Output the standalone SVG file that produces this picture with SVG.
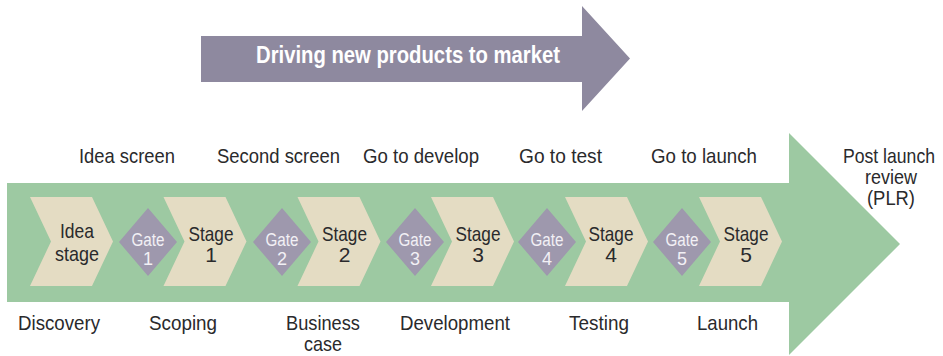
<svg xmlns="http://www.w3.org/2000/svg" width="943" height="356" viewBox="0 0 943 356">
<defs>
<style>
.lbl{font-family:"Liberation Sans",Arial,sans-serif;font-size:21px;fill:#2a2a2c;text-anchor:middle}
.gate{font-family:"Liberation Sans",Arial,sans-serif;font-size:18px;fill:#f2f0f5;text-anchor:middle}
.title{font-family:"Liberation Sans",Arial,sans-serif;font-size:23px;font-weight:bold;fill:#ffffff;text-anchor:middle}
.chev{fill:#e4dcc3}
.dia{fill:#9e98ad}
</style>
<polygon id="chevShape" class="chev" points="0,197 62,197 83,241.5 62,286 0,286 21,241.5"/>
<polygon id="diaShape" class="dia" points="0,208 29,242 0,276 -29,242"/>
</defs>
<rect width="943" height="356" fill="#ffffff"/>
<g id="title-arrow">
<polygon points="201,36 582,36 582,6 630,58.5 582,111 582,82 201,82" fill="#8e899f"/>
<text class="title" x="408" y="63" textLength="304" lengthAdjust="spacingAndGlyphs">Driving new products to market</text>
</g>
<g id="process-arrow">
<polygon points="7,183 789,183 789,133 900,244 789,355 789,302 7,302" fill="#9dc9a2"/>
</g>
<g id="connectors"></g>
<g id="idea-stage">
<use href="#chevShape" x="30"/>
<text class="lbl" x="77" y="238" textLength="34" lengthAdjust="spacingAndGlyphs">Idea</text>
<text class="lbl" x="77" y="261" textLength="44" lengthAdjust="spacingAndGlyphs">stage</text>
</g>
<g id="gate1">
<use href="#diaShape" x="148"/>
<text class="gate" x="148" y="246" textLength="33" lengthAdjust="spacingAndGlyphs">Gate</text>
<text class="gate" x="148" y="265">1</text>
</g>
<g id="stage1">
<use href="#chevShape" x="163.5"/>
<text class="lbl" x="211" y="241" textLength="45" lengthAdjust="spacingAndGlyphs">Stage</text>
<text class="lbl" x="211" y="262">1</text>
</g>
<g id="gate2">
<use href="#diaShape" x="282"/>
<text class="gate" x="282" y="246" textLength="33" lengthAdjust="spacingAndGlyphs">Gate</text>
<text class="gate" x="282" y="265">2</text>
</g>
<g id="stage2">
<use href="#chevShape" x="297.5"/>
<text class="lbl" x="344.5" y="241" textLength="45" lengthAdjust="spacingAndGlyphs">Stage</text>
<text class="lbl" x="344.5" y="262">2</text>
</g>
<g id="gate3">
<use href="#diaShape" x="415"/>
<text class="gate" x="415" y="246" textLength="33" lengthAdjust="spacingAndGlyphs">Gate</text>
<text class="gate" x="415" y="265">3</text>
</g>
<g id="stage3">
<use href="#chevShape" x="431"/>
<text class="lbl" x="478" y="241" textLength="45" lengthAdjust="spacingAndGlyphs">Stage</text>
<text class="lbl" x="478" y="262">3</text>
</g>
<g id="gate4">
<use href="#diaShape" x="547"/>
<text class="gate" x="547" y="246" textLength="33" lengthAdjust="spacingAndGlyphs">Gate</text>
<text class="gate" x="547" y="265">4</text>
</g>
<g id="stage4">
<use href="#chevShape" x="565"/>
<text class="lbl" x="611" y="241" textLength="45" lengthAdjust="spacingAndGlyphs">Stage</text>
<text class="lbl" x="611" y="262">4</text>
</g>
<g id="gate5">
<use href="#diaShape" x="682"/>
<text class="gate" x="682" y="246" textLength="33" lengthAdjust="spacingAndGlyphs">Gate</text>
<text class="gate" x="682" y="265">5</text>
</g>
<g id="stage5">
<use href="#chevShape" x="699"/>
<text class="lbl" x="746" y="241" textLength="45" lengthAdjust="spacingAndGlyphs">Stage</text>
<text class="lbl" x="746" y="262">5</text>
</g>
<g id="gate-labels">
<text class="lbl" x="127" y="163" textLength="96" lengthAdjust="spacingAndGlyphs">Idea screen</text>
<text class="lbl" x="278.5" y="163" textLength="123" lengthAdjust="spacingAndGlyphs">Second screen</text>
<text class="lbl" x="421" y="163" textLength="116" lengthAdjust="spacingAndGlyphs">Go to develop</text>
<text class="lbl" x="560.5" y="163" textLength="83" lengthAdjust="spacingAndGlyphs">Go to test</text>
<text class="lbl" x="704" y="163" textLength="106" lengthAdjust="spacingAndGlyphs">Go to launch</text>
</g>
<g id="plr">
<text class="lbl" x="889" y="163" textLength="92" lengthAdjust="spacingAndGlyphs">Post launch</text>
<text class="lbl" x="891" y="184" textLength="52" lengthAdjust="spacingAndGlyphs">review</text>
<text class="lbl" x="891" y="205" textLength="48" lengthAdjust="spacingAndGlyphs">(PLR)</text>
</g>
<g id="stage-labels">
<text class="lbl" x="59" y="330" textLength="82" lengthAdjust="spacingAndGlyphs">Discovery</text>
<text class="lbl" x="183" y="330" textLength="68" lengthAdjust="spacingAndGlyphs">Scoping</text>
<text class="lbl" x="323" y="330" textLength="74" lengthAdjust="spacingAndGlyphs">Business</text>
<text class="lbl" x="323" y="351" textLength="38" lengthAdjust="spacingAndGlyphs">case</text>
<text class="lbl" x="455" y="330" textLength="110" lengthAdjust="spacingAndGlyphs">Development</text>
<text class="lbl" x="599" y="330" textLength="60" lengthAdjust="spacingAndGlyphs">Testing</text>
<text class="lbl" x="727.5" y="330" textLength="61" lengthAdjust="spacingAndGlyphs">Launch</text>
</g>
</svg>
